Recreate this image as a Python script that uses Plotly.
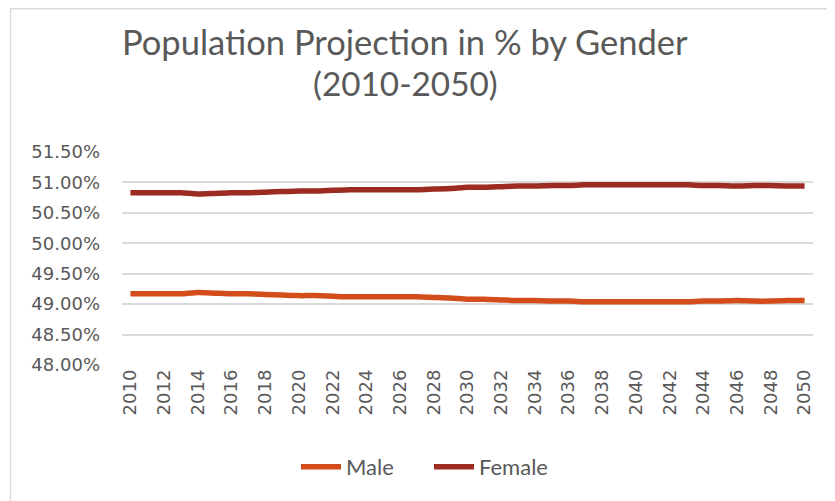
import plotly.graph_objects as go

years = list(range(2010, 2051))
male = [49.17, 49.17, 49.17, 49.17, 49.19, 49.18, 49.17, 49.17, 49.16, 49.15,
        49.14, 49.14, 49.13, 49.12, 49.12, 49.12, 49.12, 49.12, 49.11, 49.10,
        49.08, 49.08, 49.07, 49.06, 49.06, 49.05, 49.05, 49.04, 49.04, 49.04,
        49.04, 49.04, 49.04, 49.04, 49.05, 49.05, 49.06, 49.05, 49.05, 49.06, 49.06]
female = [50.83, 50.83, 50.83, 50.83, 50.81, 50.82, 50.83, 50.83, 50.84, 50.85,
          50.86, 50.86, 50.87, 50.88, 50.88, 50.88, 50.88, 50.88, 50.89, 50.90,
          50.92, 50.92, 50.93, 50.94, 50.94, 50.95, 50.95, 50.96, 50.96, 50.96,
          50.96, 50.96, 50.96, 50.96, 50.95, 50.95, 50.94, 50.95, 50.95, 50.94, 50.94]
y_ticks = [48.0, 48.5, 49.0, 49.5, 50.0, 50.5, 51.0, 51.5]
x_ticks = list(range(2010, 2051, 2))
title_lines = ["Population Projection in % by Gender", "(2010-2050)"]

W, H = 835, 501
OFF = 8  # page body margin: figure origin sits at (8, 8) in the window
PX0, PX1, PY0, PY1 = 122, 813, 152, 365
L, T = PX0 - OFF, PY0 - OFF
R, B = W - (PX1 - OFF), H - (PY1 - OFF)
pw, ph = W - L - R, H - T - B

def px(x):
    return (x - OFF - L) / pw

def py(y):
    return (H - B - (y - OFF)) / ph

fig = go.Figure()
fig.add_trace(go.Scatter(x=years, y=male, name="Male", mode="lines",
                         line=dict(color="#D24D19", width=5.5, shape="spline", smoothing=0.6)))
fig.add_trace(go.Scatter(x=years, y=female, name="Female", mode="lines",
                         line=dict(color="#9C2B21", width=5.5, shape="spline", smoothing=0.6)))

fig.update_layout(
    width=W, height=H,
    margin=dict(l=L, r=R, t=T, b=B, autoexpand=False),
    paper_bgcolor="white", plot_bgcolor="white",
    xaxis=dict(range=[2009.5, 2050.5], tickvals=x_ticks, ticktext=[str(v) for v in x_ticks],
               tickangle=-90, showgrid=False, zeroline=False, showline=False,
               ticks="", ticklen=0,
               tickfont=dict(family="DejaVu Sans", size=18, color="#595959")),
    yaxis=dict(range=[48.0, 51.5], tickvals=y_ticks,
               ticktext=[f"{v:.2f}%" for v in y_ticks],
               showgrid=True, gridcolor="#D9D9D9", gridwidth=1.5, zeroline=False,
               showline=False, ticks="", ticklabelstandoff=21,
               tickfont=dict(family="DejaVu Sans", size=18, color="#595959")),
    legend=dict(orientation="h", x=px(296), xanchor="left", y=py(467), yanchor="middle",
                font=dict(family="Lato", size=22, color="#595959"),
                itemwidth=40, entrywidth=78, entrywidthmode="pixels",
                bgcolor="rgba(0,0,0,0)"),
    showlegend=True,
)

for txt, yc, fs in zip(title_lines, [41, 83], [34.5, 33.3]):
    fig.add_annotation(text=txt, xref="paper", yref="paper", x=px(405), y=py(yc),
                       xanchor="center", yanchor="middle", showarrow=False,
                       font=dict(family="Lato", size=fs, color="#595959"))

fig.add_shape(type="rect", xref="paper", yref="paper",
              x0=px(10.5), x1=px(900), y0=py(600), y1=py(8.75),
              line=dict(color="#D9D9D9", width=1.5), fillcolor="rgba(0,0,0,0)", layer="below")

fig.write_html("out.html")
